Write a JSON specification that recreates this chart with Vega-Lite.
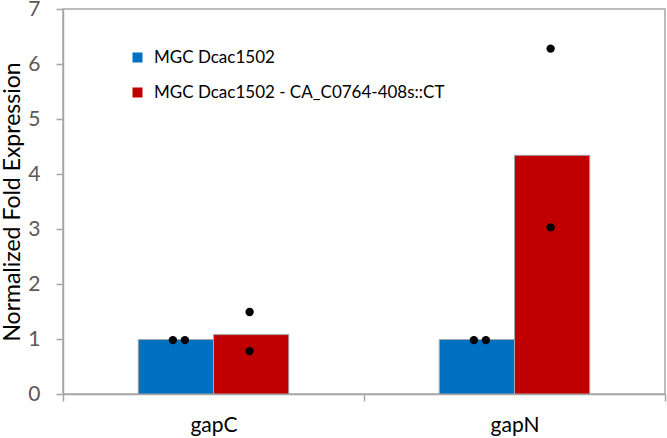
{
  "$schema": "https://vega.github.io/schema/vega-lite/v6.json",
  "width": 602,
  "height": 385,
  "autosize": {"type": "none"},
  "padding": {"left": 63, "top": 9, "right": 2, "bottom": 44},
  "background": "white",
  "config": {
    "font": "Lato",
    "view": {"stroke": "#a6a6a6", "strokeWidth": 1.5}
  },
  "datasets": {
    "bars": [
      {"gene": "gapC", "series": "MGC Dcac1502", "value": 0.99},
      {"gene": "gapC", "series": "MGC Dcac1502 - CA_C0764-408s::CT", "value": 1.08},
      {"gene": "gapN", "series": "MGC Dcac1502", "value": 0.99},
      {"gene": "gapN", "series": "MGC Dcac1502 - CA_C0764-408s::CT", "value": 4.34}
    ],
    "points": [
      {"gene": "gapC", "series": "MGC Dcac1502", "rep": 1, "value": 0.98},
      {"gene": "gapC", "series": "MGC Dcac1502", "rep": 2, "value": 0.98},
      {"gene": "gapC", "series": "MGC Dcac1502 - CA_C0764-408s::CT", "rep": 1, "value": 1.49},
      {"gene": "gapC", "series": "MGC Dcac1502 - CA_C0764-408s::CT", "rep": 2, "value": 0.78},
      {"gene": "gapN", "series": "MGC Dcac1502", "rep": 1, "value": 0.98},
      {"gene": "gapN", "series": "MGC Dcac1502", "rep": 2, "value": 0.98},
      {"gene": "gapN", "series": "MGC Dcac1502 - CA_C0764-408s::CT", "rep": 1, "value": 6.28},
      {"gene": "gapN", "series": "MGC Dcac1502 - CA_C0764-408s::CT", "rep": 2, "value": 3.03}
    ]
  },
  "layer": [
    {
      "data": {"name": "bars"},
      "mark": {"type": "bar", "stroke": "#a6a6a6", "strokeWidth": 1},
      "encoding": {
        "x": {
          "field": "gene", "type": "nominal",
          "scale": {"paddingInner": 0, "paddingOuter": 0},
          "axis": {
            "title": null, "labelAngle": 0, "labelFontSize": 21, "labelColor": "black",
            "labelPadding": 13, "tickSize": 7, "tickBand": "extent",
            "tickColor": "#a6a6a6", "domainColor": "#a6a6a6", "domainWidth": 1.5, "tickWidth": 1.5
          }
        },
        "xOffset": {
          "field": "series", "type": "nominal",
          "scale": {"domain": ["MGC Dcac1502", "MGC Dcac1502 - CA_C0764-408s::CT"], "paddingInner": 0, "paddingOuter": 1.105}
        },
        "y": {
          "field": "value", "type": "quantitative",
          "scale": {"domain": [0, 7]},
          "axis": {
            "title": "Normalized Fold Expression", "titleFontSize": 23, "titleFontWeight": "normal",
            "titleColor": "black", "titlePadding": 3,
            "values": [0, 1, 2, 3, 4, 5, 6, 7], "format": "d", "labelFontSize": 21, "labelColor": "#595959",
            "labelPadding": 16, "tickSize": 7, "tickColor": "#a6a6a6", "domainColor": "#a6a6a6",
            "domainWidth": 1.5, "tickWidth": 1.5, "grid": false
          }
        },
        "color": {
          "field": "series", "type": "nominal",
          "scale": {"domain": ["MGC Dcac1502", "MGC Dcac1502 - CA_C0764-408s::CT"], "range": ["#0070C0", "#C00000"]},
          "legend": {
            "orient": "none", "legendX": 66, "legendY": 40, "title": null, "padding": 0,
            "symbolType": "square", "symbolSize": 100, "labelFontSize": 17, "labelColor": "black",
            "labelOffset": 8, "rowPadding": 17, "symbolStrokeColor": "#bfbfbf", "symbolStrokeWidth": 0.5,
            "labelLimit": 500,
            "encode": {
              "symbols": {
                "update": {
                  "fill": {"signal": "datum.value === 'MGC Dcac1502' ? '#0070C0' : '#FF0000'"},
                  "opacity": {"value": 1}
                }
              }
            }
          }
        }
      }
    },
    {
      "data": {"name": "points"},
      "transform": [{"filter": "datum.series === 'MGC Dcac1502' && datum.rep === 1"}],
      "mark": {"type": "point", "filled": true, "color": "black", "size": 70, "opacity": 1},
      "encoding": {
        "x": {"field": "gene", "type": "nominal", "bandPosition": 0.365},
        "y": {"field": "value", "type": "quantitative"}
      }
    },
    {
      "data": {"name": "points"},
      "transform": [{"filter": "datum.series === 'MGC Dcac1502' && datum.rep === 2"}],
      "mark": {"type": "point", "filled": true, "color": "black", "size": 70, "opacity": 1},
      "encoding": {
        "x": {"field": "gene", "type": "nominal", "bandPosition": 0.405},
        "y": {"field": "value", "type": "quantitative"}
      }
    },
    {
      "data": {"name": "points"},
      "transform": [{"filter": "datum.series !== 'MGC Dcac1502'"}],
      "mark": {"type": "point", "filled": true, "color": "black", "size": 70, "opacity": 1},
      "encoding": {
        "x": {"field": "gene", "type": "nominal", "bandPosition": 0.62},
        "y": {"field": "value", "type": "quantitative"}
      }
    }
  ]
}
